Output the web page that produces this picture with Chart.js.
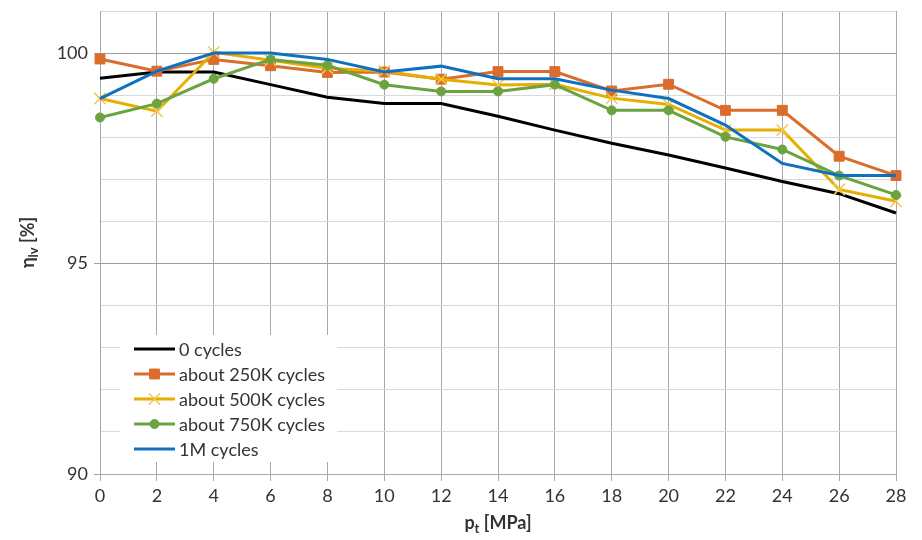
<!DOCTYPE html>
<html>
<head>
<meta charset="utf-8">
<script src="https://cdn.jsdelivr.net/npm/chart.js@4.4.0/dist/chart.umd.min.js"></script>
<style>
  html, body { margin: 0; padding: 0; background: #fff; }
  #wrap { width: 922px; height: 540px; }
</style>
</head>
<body>
<div id="wrap"><canvas id="chart"></canvas></div>
<script>
/* --- Data --- */
const pressures = [0, 2, 4, 6, 8, 10, 12, 14, 16, 18, 20, 22, 24, 26, 28];
const seriesNames = ['0 cycles', 'about 250K cycles', 'about 500K cycles', 'about 750K cycles', '1M cycles'];
const cycles0 =    [99.4, 99.55, 99.55, 99.25, 98.95, 98.8, 98.8, 98.5, 98.17, 97.86, 97.58, 97.27, 96.95, 96.66, 96.2];
const cycles250k = [99.86, 99.57, 99.85, 99.7, 99.54, 99.55, 99.38, 99.56, 99.56, 99.1, 99.26, 98.64, 98.64, 97.55, 97.09];
const cycles500k = [98.92, 98.62, 100.02, 99.83, 99.64, 99.57, 99.38, 99.24, 99.26, 98.93, 98.78, 98.17, 98.17, 96.76, 96.48];
const cycles750k = [98.47, 98.8, 99.39, 99.85, 99.71, 99.25, 99.09, 99.09, 99.25, 98.64, 98.64, 98.01, 97.71, 97.09, 96.63];
const cycles1m =   [98.92, 99.57, 100.0, 100.0, 99.85, 99.55, 99.69, 99.39, 99.39, 99.12, 98.92, 98.29, 97.38, 97.09, 97.09];
const yTickLabels = [90, 95, 100];

const FONT = 'Lato, "Open Sans", sans-serif';
const TEXT = '#333333';

/* --- Series styles --- */
const styles = [
  { color: '#000000', pointStyle: false, radius: 0 },
  { color: '#DA6D2C', pointStyle: 'rect', radius: 7 },
  { color: '#E5AE00', pointStyle: 'crossRot', radius: 8, pointColor: '#F3C74A' },
  { color: '#6AA33F', pointStyle: 'circle', radius: 4.5 },
  { color: '#0F70C0', pointStyle: false, radius: 0 }
];
const seriesValues = [cycles0, cycles250k, cycles500k, cycles750k, cycles1m];

const datasets = seriesValues.map((vals, i) => ({
  label: seriesNames[i],
  data: vals,
  borderColor: styles[i].color,
  backgroundColor: styles[i].pointColor || styles[i].color,
  pointBorderColor: styles[i].pointColor || styles[i].color,
  pointBackgroundColor: styles[i].pointColor || styles[i].color,
  borderWidth: 3,
  pointStyle: styles[i].pointStyle,
  pointRadius: styles[i].radius,
  pointBorderWidth: styles[i].pointStyle === 'crossRot' ? 1.5 : 1,
  tension: 0,
  order: 4 - i
}));

/* --- Axis titles + legend drawn on canvas --- */
function drawSubText(ctx, parts, x, y, rotate) {
  ctx.save();
  ctx.translate(x, y);
  if (rotate) ctx.rotate(-Math.PI / 2);
  ctx.fillStyle = TEXT;
  ctx.textBaseline = 'alphabetic';
  let total = 0;
  parts.forEach(p => {
    ctx.font = 'bold ' + (p.sub ? 13 : 18) + 'px ' + FONT;
    total += ctx.measureText(p.t).width;
  });
  let cx = -total / 2;
  parts.forEach(p => {
    ctx.font = 'bold ' + (p.sub ? 13 : 18) + 'px ' + FONT;
    ctx.fillText(p.t, cx, p.sub ? 10 : 6);
    cx += ctx.measureText(p.t).width;
  });
  ctx.restore();
}

const overlay = {
  id: 'overlay',
  afterDraw(chart) {
    const ctx = chart.ctx;
    const area = chart.chartArea;

    drawSubText(ctx, [{ t: 'p' }, { t: 't', sub: true }, { t: ' [MPa]' }],
      (area.left + area.right) / 2, 523, false);
    drawSubText(ctx, [{ t: 'η' }, { t: 'lv', sub: true }, { t: ' [%]' }],
      28, (area.top + area.bottom) / 2, true);

    // legend box
    const lx = 120, ly = 335, lw = 217, lh = 127;
    ctx.save();
    ctx.fillStyle = '#ffffff';
    ctx.fillRect(lx, ly, lw, lh);
    chart.data.datasets.forEach((ds, i) => {
      const y = 349 + i * 25;
      ctx.strokeStyle = ds.borderColor;
      ctx.lineWidth = 3;
      ctx.beginPath();
      ctx.moveTo(134, y);
      ctx.lineTo(175, y);
      ctx.stroke();
      if (ds.pointStyle) {
        ctx.fillStyle = ds.pointBackgroundColor;
        ctx.strokeStyle = ds.pointBorderColor;
        ctx.lineWidth = ds.pointBorderWidth;
        Chart.helpers.drawPoint(ctx, {
          pointStyle: ds.pointStyle,
          radius: ds.pointRadius,
          borderWidth: ds.pointBorderWidth,
          rotation: 0
        }, 154.5, y);
      }
      ctx.fillStyle = TEXT;
      ctx.font = '18px ' + FONT;
      ctx.textBaseline = 'middle';
      ctx.textAlign = 'left';
      ctx.fillText(ds.label, 179, y + 1);
    });
    ctx.restore();
  }
};

new Chart(document.getElementById('chart'), {
  type: 'line',
  data: { labels: pressures.map(String), datasets: datasets },
  plugins: [overlay],
  options: {
    responsive: true,
    maintainAspectRatio: false,
    animation: false,
    layout: { padding: { top: 11, right: 26, left: 0, bottom: 0 } },
    plugins: {
      legend: { display: false },
      tooltip: { enabled: false }
    },
    scales: {
      x: {
        type: 'category',
        offset: false,
        grid: { color: '#a8a8a8', lineWidth: 1, tickLength: 7 },
        border: { color: '#a8a8a8' },
        ticks: {
          font: { family: FONT, size: 18 }, color: TEXT,
          padding: 4, maxRotation: 0, autoSkip: false
        },
        afterFit(scale) { scale.height = 66; }
      },
      y: {
        type: 'linear',
        min: 90,
        max: 101,
        grid: {
          color: c => (c.tick.value % 5 === 0 ? '#a0a0a0' : '#d9d9d9'),
          tickColor: c => (c.tick.value % 5 === 0 ? '#a0a0a0' : 'rgba(0,0,0,0)'),
          tickLength: 6
        },
        border: { color: '#a8a8a8' },
        ticks: {
          stepSize: 1,
          font: { family: FONT, size: 18 }, color: TEXT,
          padding: 6,
          callback: v => (yTickLabels.includes(v) ? String(v) : '')
        },
        afterFit(scale) {
          scale.width = 100;
          scale.paddingTop = 0;
          scale.paddingBottom = 0;
        }
      }
    }
  }
});
</script>
</body>
</html>
